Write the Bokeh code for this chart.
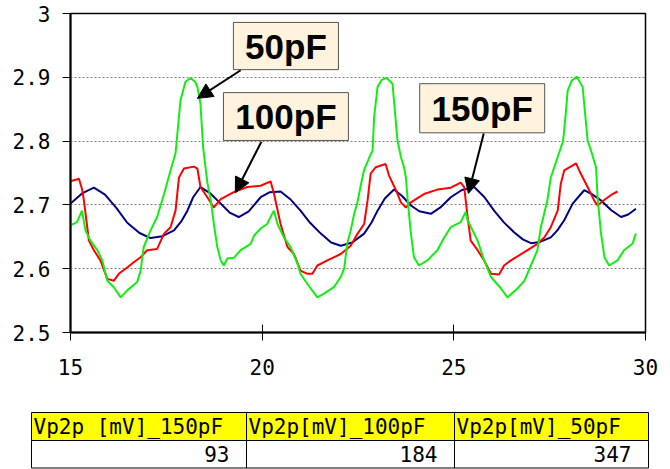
from bokeh.plotting import figure
from bokeh.models import Range1d, FixedTicker, Arrow, NormalHead
from bokeh.layouts import column
from bokeh.embed import file_html
from bokeh.resources import INLINE
from bokeh.core.properties import value

# ---------------- data ----------------
x_150 = [15.00, 15.30, 15.61, 15.90, 16.20, 16.48, 16.80, 17.09, 17.40, 17.70, 17.90, 18.05, 18.20, 18.39,
         18.65, 18.92, 19.15, 19.39, 19.65, 19.96, 20.20, 20.48, 20.75, 21.00, 21.25, 21.53, 21.80, 22.05,
         22.35, 22.66, 22.85, 23.01, 23.20, 23.44, 23.65, 23.88, 24.10, 24.40, 24.65, 24.92, 25.20, 25.53,
         25.80, 26.05, 26.30, 26.57, 26.80, 27.01, 27.25, 27.53, 27.70, 27.88, 28.10, 28.40, 28.60, 28.84,
         29.10, 29.36, 29.55, 29.75]
y_150 = [2.702, 2.718, 2.727, 2.716, 2.695, 2.672, 2.656, 2.648, 2.651, 2.660, 2.675, 2.691, 2.712, 2.728,
         2.718, 2.702, 2.688, 2.681, 2.690, 2.712, 2.720, 2.721, 2.708, 2.691, 2.672, 2.655, 2.641, 2.636,
         2.641, 2.655, 2.672, 2.691, 2.710, 2.724, 2.714, 2.699, 2.690, 2.686, 2.696, 2.712, 2.723, 2.728,
         2.712, 2.691, 2.673, 2.657, 2.646, 2.640, 2.642, 2.649, 2.660, 2.676, 2.702, 2.723, 2.717, 2.707,
         2.692, 2.681, 2.685, 2.694]

x_100 = [15.00, 15.22, 15.30, 15.35, 15.48, 15.61, 15.78, 15.96, 16.13, 16.26, 16.48, 16.65, 16.83, 17.00,
         17.26, 17.44, 17.61, 17.74, 17.83, 17.96, 18.22, 18.31, 18.39, 18.57, 18.74, 18.92, 19.26, 19.61,
         19.96, 20.22, 20.31, 20.48, 20.66, 20.83, 21.00, 21.18, 21.31, 21.44, 21.70, 22.05, 22.31, 22.49,
         22.66, 22.75, 22.83, 22.96, 23.22, 23.31, 23.49, 23.62, 23.75, 23.88, 24.22, 24.57, 24.92, 25.18,
         25.27, 25.36, 25.44, 25.62, 25.79, 25.97, 26.18, 26.31, 26.49, 26.84, 27.18, 27.36, 27.53, 27.71,
         27.79, 27.88, 28.19, 28.27, 28.49, 28.66, 28.75, 28.93, 29.14, 29.27]
y_100 = [2.737, 2.741, 2.725, 2.707, 2.644, 2.629, 2.613, 2.584, 2.581, 2.592, 2.602, 2.610, 2.618, 2.629,
         2.631, 2.655, 2.665, 2.691, 2.743, 2.757, 2.760, 2.757, 2.728, 2.712, 2.696, 2.709, 2.720, 2.728,
         2.730, 2.737, 2.717, 2.670, 2.634, 2.623, 2.597, 2.592, 2.592, 2.605, 2.613, 2.623, 2.636, 2.655,
         2.670, 2.707, 2.749, 2.759, 2.764, 2.746, 2.723, 2.704, 2.696, 2.704, 2.717, 2.724, 2.727, 2.735,
         2.728, 2.681, 2.644, 2.629, 2.613, 2.592, 2.591, 2.605, 2.613, 2.626, 2.639, 2.649, 2.665, 2.691,
         2.733, 2.754, 2.765, 2.754, 2.728, 2.707, 2.699, 2.708, 2.717, 2.721]

x_50 = [15.00, 15.17, 15.30, 15.39, 15.52, 15.70, 15.83, 15.96, 16.13, 16.31, 16.48, 16.74, 16.83, 16.91,
        17.09, 17.26, 17.44, 17.61, 17.74, 17.87, 18.00, 18.13, 18.25, 18.31, 18.39, 18.46, 18.57, 18.66,
        18.74, 18.83, 18.92, 19.00, 19.09, 19.26, 19.44, 19.70, 19.79, 19.96, 20.13, 20.26, 20.31, 20.40,
        20.57, 20.74, 20.92, 21.00, 21.18, 21.44, 21.61, 21.87, 22.05, 22.14, 22.22, 22.31, 22.40, 22.49,
        22.57, 22.66, 22.80, 22.88, 22.92, 23.01, 23.12, 23.25, 23.40, 23.53, 23.62, 23.70, 23.75, 23.79,
        23.88, 23.96, 24.09, 24.31, 24.57, 24.75, 24.92, 25.18, 25.31, 25.36, 25.62, 25.79, 25.97, 26.23,
        26.40, 26.66, 26.84, 27.01, 27.18, 27.27, 27.44, 27.53, 27.71, 27.85, 27.92, 27.97, 28.08, 28.21,
        28.36, 28.49, 28.58, 28.71, 28.75, 28.84, 28.93, 29.05, 29.27, 29.44, 29.66, 29.75]
y_50 = [2.668, 2.673, 2.691, 2.660, 2.644, 2.629, 2.613, 2.581, 2.571, 2.555, 2.566, 2.579, 2.597, 2.634,
        2.660, 2.681, 2.717, 2.754, 2.781, 2.864, 2.893, 2.899, 2.893, 2.885, 2.859, 2.790, 2.735, 2.707,
        2.670, 2.634, 2.613, 2.605, 2.616, 2.617, 2.629, 2.639, 2.652, 2.663, 2.670, 2.686, 2.691, 2.670,
        2.649, 2.634, 2.608, 2.592, 2.576, 2.555, 2.561, 2.571, 2.587, 2.600, 2.640, 2.660, 2.686, 2.705,
        2.730, 2.755, 2.775, 2.785, 2.837, 2.885, 2.896, 2.899, 2.890, 2.801, 2.775, 2.759, 2.743, 2.712,
        2.655, 2.618, 2.605, 2.613, 2.629, 2.649, 2.665, 2.673, 2.689, 2.676, 2.644, 2.613, 2.587, 2.569,
        2.555, 2.569, 2.581, 2.605, 2.629, 2.665, 2.707, 2.743, 2.775, 2.800, 2.843, 2.879, 2.895, 2.901,
        2.885, 2.801, 2.785, 2.759, 2.712, 2.655, 2.618, 2.605, 2.613, 2.629, 2.639, 2.655]

x_ticks = [15, 20, 25, 30]
x_tick_labels = ["15", "20", "25", "30"]
y_ticks = [2.5, 2.6, 2.7, 2.8, 2.9, 3.0]
y_tick_labels = ["2.5", "2.6", "2.7", "2.8", "2.9", "3"]

callout_labels = ["50pF", "100pF", "150pF"]
table_headers = ["Vp2p [mV]_150pF", "Vp2p[mV]_100pF", "Vp2p[mV]_50pF"]
table_values = [93, 184, 347]

# ---------------- chart ----------------
MONO = "DejaVu Sans Mono"
p = figure(frame_width=575, frame_height=319,
           min_border_left=70, min_border_right=25, min_border_top=13, min_border_bottom=63,
           x_range=Range1d(15, 30), y_range=Range1d(2.5, 3.0),
           output_backend="svg", toolbar_location=None)
p.frame_align = False
p.background_fill_color = "white"
p.border_fill_color = "white"
p.outline_line_color = "black"
p.outline_line_width = 1.5

p.xgrid.visible = False
p.ygrid.grid_line_color = "#808080"
p.ygrid.grid_line_dash = "2 2"
p.ygrid.grid_line_width = 1

p.xaxis.ticker = FixedTicker(ticks=x_ticks)
p.xaxis.major_label_overrides = {t: l for t, l in zip(x_ticks, x_tick_labels)}
p.yaxis.ticker = FixedTicker(ticks=y_ticks)
p.yaxis.major_label_overrides = {t: l for t, l in zip(y_ticks, y_tick_labels)}
for ax in (p.xaxis, p.yaxis):
    ax.axis_line_color = "black"
    ax.axis_line_width = 2
    ax.major_tick_line_color = "black"
    ax.major_tick_line_width = 1
    ax.minor_tick_line_color = None
    ax.major_label_text_font = MONO
    ax.major_label_text_font_size = "21px"
    ax.major_label_text_color = "black"
p.yaxis.major_tick_in = 0
p.yaxis.major_tick_out = 8
p.yaxis.major_label_standoff = 12
p.xaxis.major_tick_in = 8
p.xaxis.major_tick_out = 8
p.xaxis.major_label_standoff = 18

p.line(x_150, y_150, line_color="#000080", line_width=2)
p.line(x_100, y_100, line_color="#FF0000", line_width=2)
p.line(x_50, y_50, line_color="#11EE11", line_width=2)

# callouts (layout positions in data units)
box_left = [19.25, 18.99, 24.11]
box_right = [21.99, 22.25, 27.37]
box_top = [2.986, 2.876, 2.890]
box_bottom = [2.912, 2.801, 2.813]
arr_x0 = [19.44, 19.98, 25.78]
arr_y0 = [2.911, 2.799, 2.812]
arr_x1 = [18.31, 19.30, 25.38]
arr_y1 = [2.867, 2.719, 2.718]

for i in range(3):
    p.add_layout(Arrow(end=NormalHead(size=15, fill_color="black", line_color="black"),
                       x_start=arr_x0[i], y_start=arr_y0[i], x_end=arr_x1[i], y_end=arr_y1[i],
                       line_color="black", line_width=2))
p.quad(left=box_left, right=box_right, top=box_top, bottom=box_bottom,
       fill_color="#FFF3DD", line_color="#555555", line_width=1)
p.text(x=[(a + b) / 2 for a, b in zip(box_left, box_right)],
       y=[(a + b) / 2 for a, b in zip(box_top, box_bottom)],
       text=callout_labels, text_font=value("Liberation Sans"), text_font_style="bold",
       text_font_size="35px", text_align="center", text_baseline="middle", text_color="black")

# ---------------- table ----------------
TW, TH = 670, 74
t = figure(frame_width=TW, frame_height=TH, x_range=Range1d(0, TW), y_range=Range1d(TH, 0),
           min_border=0, output_backend="svg", toolbar_location=None)
t.frame_align = False
t.axis.visible = False
t.grid.visible = False
t.outline_line_color = None
t.background_fill_color = "white"
t.border_fill_color = "white"

col_edges = [31, 246, 454, 648]
row_edges = [17, 45, 72.5]
lefts = col_edges[:-1]
rights = col_edges[1:]
t.quad(left=lefts, right=rights, top=[row_edges[0]] * 3, bottom=[row_edges[1]] * 3,
       fill_color="#FFFF00", line_color="black", line_width=1)
t.quad(left=lefts, right=rights, top=[row_edges[1]] * 3, bottom=[row_edges[2]] * 3,
       fill_color="white", line_color="black", line_width=1)
t.text(x=[l + 2 for l in lefts], y=[(row_edges[0] + row_edges[1]) / 2] * 3, text=table_headers,
       text_font=value(MONO), text_font_size="21px", text_align="left", text_baseline="middle",
       text_color="black")
t.text(x=[r - 17 for r in rights], y=[(row_edges[1] + row_edges[2]) / 2] * 3,
       text=[str(v) for v in table_values],
       text_font=value(MONO), text_font_size="21px", text_align="right", text_baseline="middle",
       text_color="black")

layout = column(p, t, spacing=0)
open("out.html", "w").write(file_html(layout, INLINE))
